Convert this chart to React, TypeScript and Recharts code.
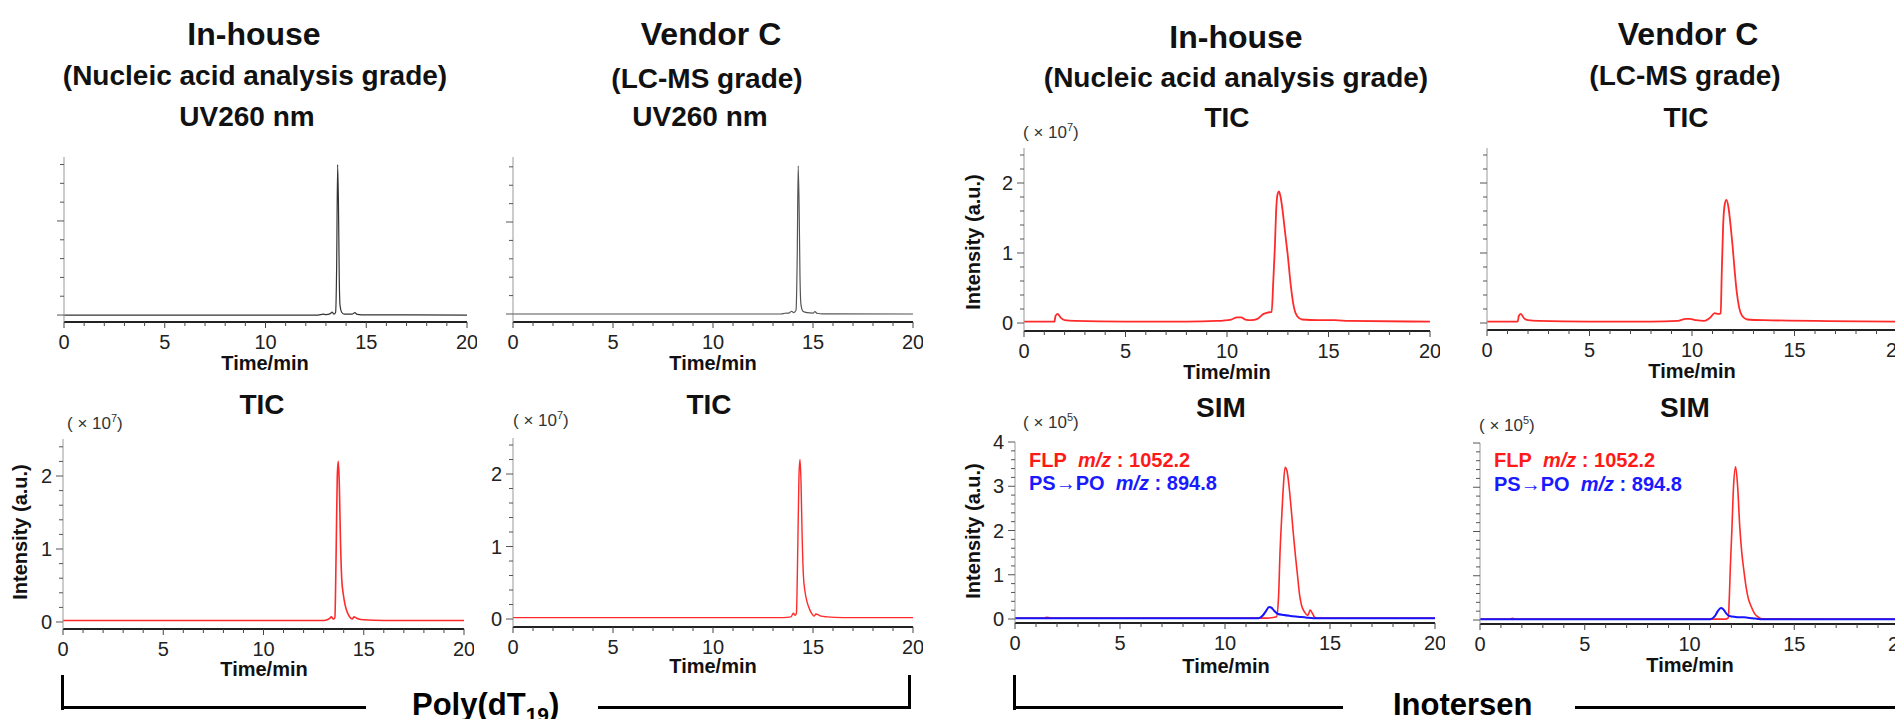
import { LineChart, Line, XAxis, YAxis } from "recharts";

const FONT = '"Liberation Sans", Arial, sans-serif';

type Pt = [number, number];

// time axis (min)
const timeTicks = [0, 1, 2, 3, 4, 5, 6, 7, 8, 9, 10, 11, 12, 13, 14, 15, 16, 17, 18, 19, 20];
const uvTicks = [0, 0.2, 0.4, 0.6, 0.8, 1, 1.2, 1.4, 1.6];
const ticTicks = [0, 0.2, 0.4, 0.6, 0.8, 1, 1.2, 1.4, 1.6, 1.8, 2, 2.2, 2.4];
const simTicks = [0, 0.2, 0.4, 0.6, 0.8, 1, 1.2, 1.4, 1.6, 1.8, 2, 2.2, 2.4, 2.6, 2.8, 3, 3.2, 3.4, 3.6, 3.8, 4];

// Poly(dT19) UV260 (arbitrary units)
const uvInhouse: Pt[] = [
  [0, 0], [12.6, 0], [12.87, 0.01], [13.0, 0.004], [13.22, 0.015], [13.3, 0.03], [13.4, 0.01],
  [13.48, 0.03], [13.53, 0.5], [13.58, 1.6], [13.62, 1.2], [13.66, 0.4], [13.7, 0.1], [13.78, 0.03],
  [13.9, 0.01], [14.3, 0.01], [14.43, 0.025], [14.55, 0.008], [15, 0.002], [20, 0],
];
const uvVendorC: Pt[] = [
  [0, 0], [13.4, 0], [13.6, 0.008], [13.8, 0.01], [13.93, 0.03], [14.03, 0.015], [14.15, 0.04],
  [14.21, 0.6], [14.26, 1.61], [14.31, 1.1], [14.35, 0.4], [14.4, 0.1], [14.5, 0.03], [14.7, 0.015],
  [15.0, 0.01], [15.1, 0.025], [15.2, 0.008], [15.5, 0.002], [20, 0],
];

// Poly(dT19) TIC (x10^7)
const ticPolyInhouse: Pt[] = [
  [0, 0.02], [12.9, 0.02], [13.1, 0.025], [13.3, 0.05], [13.38, 0.07], [13.48, 0.04], [13.56, 0.06],
  [13.62, 0.9], [13.68, 2.0], [13.73, 2.2], [13.78, 1.9], [13.84, 1.1], [13.9, 0.6], [13.98, 0.38],
  [14.08, 0.22], [14.2, 0.12], [14.32, 0.06], [14.42, 0.04], [14.52, 0.07], [14.6, 0.06], [14.75, 0.04],
  [15.0, 0.03], [16, 0.02], [20, 0.02],
];
const ticPolyVendorC: Pt[] = [
  [0, 0.02], [13.5, 0.02], [13.9, 0.03], [14.02, 0.08], [14.1, 0.05], [14.17, 0.08], [14.24, 1.0],
  [14.3, 2.0], [14.35, 2.2], [14.4, 1.9], [14.46, 1.1], [14.52, 0.6], [14.6, 0.38], [14.7, 0.24],
  [14.82, 0.14], [14.95, 0.07], [15.05, 0.04], [15.15, 0.07], [15.25, 0.06], [15.4, 0.04], [15.7, 0.03],
  [16.5, 0.02], [20, 0.02],
];

// Inotersen TIC (x10^7)
const ticInoInhouse: Pt[] = [
  [0, 0.02], [1.5, 0.02], [1.55, 0.1], [1.65, 0.13], [1.8, 0.08], [2.0, 0.04], [2.5, 0.03], [5, 0.02],
  [8, 0.02], [9.5, 0.03], [10.2, 0.05], [10.5, 0.08], [10.7, 0.08], [10.9, 0.05], [11.2, 0.04],
  [11.5, 0.06], [11.8, 0.13], [12.0, 0.15], [12.2, 0.16], [12.28, 0.6], [12.36, 1.1], [12.42, 1.6],
  [12.5, 1.85], [12.56, 1.88], [12.64, 1.8], [12.72, 1.65], [12.82, 1.4], [12.92, 1.15], [13.0, 0.95],
  [13.1, 0.65], [13.2, 0.4], [13.3, 0.22], [13.45, 0.1], [13.7, 0.05], [14.5, 0.04], [15.3, 0.04],
  [16, 0.03], [20, 0.02],
];
const ticInoVendorC: Pt[] = [
  [0, 0.02], [1.5, 0.02], [1.55, 0.1], [1.65, 0.13], [1.8, 0.07], [2.0, 0.04], [2.5, 0.03], [5, 0.02],
  [8, 0.02], [9.3, 0.03], [9.7, 0.06], [9.9, 0.06], [10.2, 0.04], [10.6, 0.03], [10.9, 0.08],
  [11.1, 0.14], [11.3, 0.13], [11.4, 0.14], [11.45, 0.7], [11.52, 1.4], [11.6, 1.7], [11.68, 1.76],
  [11.78, 1.65], [11.88, 1.4], [11.98, 1.1], [12.08, 0.75], [12.18, 0.45], [12.3, 0.22], [12.45, 0.1],
  [12.7, 0.05], [13.5, 0.04], [20, 0.02],
];

// Inotersen SIM (x10^5): FLP m/z 1052.2 and PS->PO m/z 894.8
const flpInhouse: Pt[] = [
  [0, 0.02], [1.4, 0.02], [1.5, 0.04], [1.65, 0.03], [1.8, 0.02], [12.0, 0.02], [12.45, 0.05],
  [12.55, 0.5], [12.62, 1.5], [12.7, 2.3], [12.78, 3.0], [12.86, 3.43], [12.95, 3.35], [13.05, 3.0],
  [13.15, 2.5], [13.25, 1.95], [13.35, 1.45], [13.45, 1.0], [13.55, 0.55], [13.65, 0.3], [13.8, 0.15],
  [13.95, 0.08], [14.05, 0.2], [14.15, 0.14], [14.25, 0.05], [14.35, 0.02], [20, 0.02],
];
const psPoInhouse: Pt[] = [
  [0, 0.02], [11.6, 0.02], [11.8, 0.08], [11.95, 0.18], [12.1, 0.27], [12.2, 0.26], [12.35, 0.18],
  [12.5, 0.12], [12.8, 0.09], [13.1, 0.07], [13.5, 0.05], [13.9, 0.03], [14.2, 0.02], [20, 0.02],
];
const flpVendorC: Pt[] = [
  [0, 0.02], [1.4, 0.02], [1.55, 0.04], [1.7, 0.02], [11.7, 0.02], [11.85, 0.05], [11.9, 0.5],
  [11.95, 1.2], [12.02, 2.0], [12.1, 3.0], [12.2, 3.46], [12.3, 3.0], [12.4, 2.1], [12.5, 1.5],
  [12.6, 1.1], [12.7, 0.75], [12.8, 0.5], [12.95, 0.3], [13.1, 0.15], [13.3, 0.06], [13.5, 0.03],
  [20, 0.02],
];
const psPoVendorC: Pt[] = [
  [0, 0.02], [11.0, 0.02], [11.2, 0.08], [11.35, 0.2], [11.5, 0.27], [11.6, 0.25], [11.75, 0.15],
  [11.9, 0.09], [12.2, 0.07], [12.6, 0.06], [13.0, 0.04], [13.4, 0.02], [20, 0.02],
];

const RED = "#ff2a2a";
const BLUE = "#1414ff";

function XTick(props: any) {
  const { x, y, payload } = props;
  const v = payload.value;
  const major = v % 5 === 0;
  return (
    <g>
      <line x1={x} x2={x} y1={y} y2={y + (major ? 6 : 4)} stroke="#444" strokeWidth={1} />
      {major && (
        <text x={x} y={y + 27} textAnchor="middle" fontSize={20} fill="#222" fontFamily={FONT}>
          {v}
        </text>
      )}
    </g>
  );
}

const makeYTick = (labels: boolean) => (props: any) => {
  const { x, y, payload } = props;
  const v = payload.value;
  const major = Math.abs(v - Math.round(v)) < 1e-6;
  return (
    <g>
      <line x1={x} x2={x - (major ? 7 : 4)} y1={y} y2={y} stroke="#555" strokeWidth={1} />
      {labels && major && (
        <text x={x - 11} y={y + 7} textAnchor="end" fontSize={20} fill="#222" fontFamily={FONT}>
          {Math.round(v)}
        </text>
      )}
    </g>
  );
};

interface Series {
  pts: Pt[];
  color: string;
  width: number;
}

interface PanelProps {
  left: number;
  top: number;
  w: number;
  h: number;
  yDomain: [number, number];
  yTicks: number[];
  yLabels: boolean;
  series: Series[];
}

function Panel({ left, top, w, h, yDomain, yTicks, yLabels, series }: PanelProps) {
  return (
    <div style={{ position: "absolute", left: left - 70, top: top - 10 }}>
      <LineChart width={w + 80} height={h + 60} margin={{ top: 10, right: 10, bottom: 0, left: 0 }}>
        <XAxis
          type="number"
          dataKey="t"
          domain={[0, 20]}
          ticks={timeTicks}
          interval={0}
          allowDataOverflow
          height={50}
          tickLine={false}
          tickSize={0}
          tickMargin={0}
          axisLine={{ stroke: "#222", strokeWidth: 2 }}
          tick={(p: any) => <XTick {...p} />}
        />
        <XAxis
          xAxisId="top"
          orientation="top"
          type="number"
          domain={[0, 20]}
          height={0}
          tick={false}
          tickLine={false}
          axisLine={{ stroke: "#999" }}
        />
        <YAxis
          type="number"
          domain={yDomain}
          ticks={yTicks}
          interval={0}
          allowDataOverflow
          width={70}
          tickLine={false}
          tickSize={0}
          tickMargin={0}
          axisLine={{ stroke: "#999" }}
          tick={makeYTick(yLabels)}
        />
        <YAxis
          yAxisId="right"
          orientation="right"
          type="number"
          domain={yDomain}
          allowDataOverflow
          width={0}
          tick={false}
          tickLine={false}
          axisLine={{ stroke: "#999" }}
        />
        {series.map((s, i) => (
          <Line
            key={i}
            data={s.pts.map(([t, v]) => ({ t, v }))}
            dataKey="v"
            type="monotone"
            stroke={s.color}
            strokeWidth={s.width}
            dot={false}
            activeDot={false}
            isAnimationActive={false}
          />
        ))}
      </LineChart>
    </div>
  );
}

function Txt({ x, y, size, children, bold = true, color = "#111", align = "center", rotate = false }: any) {
  const tx = align === "center" ? "-50%" : "0";
  return (
    <div
      style={{
        position: "absolute",
        left: x,
        top: y,
        transform: `translate(${tx}, -50%)${rotate ? " rotate(-90deg)" : ""}`,
        transformOrigin: rotate ? "50% 50%" : undefined,
        fontSize: size,
        fontWeight: bold ? 700 : 400,
        lineHeight: 1,
        whiteSpace: "nowrap",
        color,
        fontFamily: FONT,
      }}
    >
      {children}
    </div>
  );
}

const Scale = ({ exp }: { exp: number }) => (
  <span>
    ( × 10<span style={{ fontSize: 11, position: "relative", top: -7 }}>{exp}</span>)
  </span>
);

const Bar = ({ x, y, w, h }: { x: number; y: number; w: number; h: number }) => (
  <div style={{ position: "absolute", left: x, top: y, width: w, height: h, background: "#000" }} />
);

export default function App() {
  return (
    <div
      style={{
        position: "absolute",
        left: 0,
        top: 0,
        width: 1895,
        height: 719,
        overflow: "hidden",
        background: "#fff",
        fontFamily: FONT,
      }}
    >
      {/* titles */}
      <Txt x={254} y={34} size={32}>In-house</Txt>
      <Txt x={255} y={76} size={28}>(Nucleic acid analysis grade)</Txt>
      <Txt x={247} y={117} size={28}>UV260 nm</Txt>
      <Txt x={711} y={34} size={32}>Vendor C</Txt>
      <Txt x={707} y={79} size={28}>(LC-MS grade)</Txt>
      <Txt x={700} y={117} size={28}>UV260 nm</Txt>
      <Txt x={1236} y={37} size={32}>In-house</Txt>
      <Txt x={1236} y={78} size={28}>(Nucleic acid analysis grade)</Txt>
      <Txt x={1227} y={118} size={28}>TIC</Txt>
      <Txt x={1688} y={34} size={32}>Vendor C</Txt>
      <Txt x={1685} y={76} size={28}>(LC-MS grade)</Txt>
      <Txt x={1686} y={118} size={28}>TIC</Txt>
      <Txt x={262} y={405} size={28}>TIC</Txt>
      <Txt x={709} y={405} size={28}>TIC</Txt>
      <Txt x={1221} y={408} size={28}>SIM</Txt>
      <Txt x={1685} y={408} size={28}>SIM</Txt>

      {/* scale factors */}
      <Txt x={1023} y={132} size={17} bold={false} color="#333" align="left"><Scale exp={7} /></Txt>
      <Txt x={67} y={423} size={17} bold={false} color="#333" align="left"><Scale exp={7} /></Txt>
      <Txt x={513} y={420} size={17} bold={false} color="#333" align="left"><Scale exp={7} /></Txt>
      <Txt x={1023} y={422} size={17} bold={false} color="#333" align="left"><Scale exp={5} /></Txt>
      <Txt x={1479} y={425} size={17} bold={false} color="#333" align="left"><Scale exp={5} /></Txt>

      <Panel left={64} top={157} w={403} h={165} yDomain={[-0.074, 1.68]} yTicks={uvTicks} yLabels={false}
        series={[{ pts: uvInhouse, color: "#333", width: 1.2 }]} />
      <Panel left={513} top={157} w={400} h={165} yDomain={[-0.087, 1.707]} yTicks={uvTicks} yLabels={false}
        series={[{ pts: uvVendorC, color: "#555", width: 1.2 }]} />
      <Panel left={1024} top={148} w={406} h={183} yDomain={[-0.114, 2.5]} yTicks={ticTicks} yLabels
        series={[{ pts: ticInoInhouse, color: RED, width: 1.8 }]} />
      <Panel left={1487} top={148} w={410} h={182} yDomain={[-0.1, 2.5]} yTicks={ticTicks} yLabels={false}
        series={[{ pts: ticInoVendorC, color: RED, width: 1.8 }]} />
      <Panel left={63} top={439} w={401} h={190} yDomain={[-0.096, 2.507]} yTicks={ticTicks} yLabels
        series={[{ pts: ticPolyInhouse, color: RED, width: 1.6 }]} />
      <Panel left={513} top={438} w={400} h={189} yDomain={[-0.11, 2.497]} yTicks={ticTicks} yLabels
        series={[{ pts: ticPolyVendorC, color: RED, width: 1.4 }]} />
      <Panel left={1015} top={442} w={420} h={181} yDomain={[-0.09, 4]} yTicks={simTicks} yLabels
        series={[{ pts: flpInhouse, color: RED, width: 1.6 }, { pts: psPoInhouse, color: BLUE, width: 2 }]} />
      <Panel left={1480} top={443} w={419} h={181} yDomain={[-0.09, 4]} yTicks={simTicks} yLabels={false}
        series={[{ pts: flpVendorC, color: RED, width: 1.6 }, { pts: psPoVendorC, color: BLUE, width: 2 }]} />

      {/* axis titles */}
      <Txt x={265} y={363} size={20}>Time/min</Txt>
      <Txt x={713} y={363} size={20}>Time/min</Txt>
      <Txt x={1227} y={372} size={20}>Time/min</Txt>
      <Txt x={1692} y={371} size={20}>Time/min</Txt>
      <Txt x={264} y={669} size={20}>Time/min</Txt>
      <Txt x={713} y={666} size={20}>Time/min</Txt>
      <Txt x={1226} y={666} size={20}>Time/min</Txt>
      <Txt x={1690} y={665} size={20}>Time/min</Txt>
      <Txt x={973} y={242} size={20} rotate>Intensity (a.u.)</Txt>
      <Txt x={20} y={532} size={20} rotate>Intensity (a.u.)</Txt>
      <Txt x={973} y={531} size={20} rotate>Intensity (a.u.)</Txt>

      {/* SIM legends */}
      <Txt x={1029} y={460} size={20} color="#ff1a1a" align="left">FLP&nbsp;&nbsp;<i>m/z</i> : 1052.2</Txt>
      <Txt x={1029} y={483} size={20} color="#1a1aff" align="left">PS→PO&nbsp;&nbsp;<i>m/z</i> : 894.8</Txt>
      <Txt x={1494} y={460} size={20} color="#ff1a1a" align="left">FLP&nbsp;&nbsp;<i>m/z</i> : 1052.2</Txt>
      <Txt x={1494} y={484} size={20} color="#1a1aff" align="left">PS→PO&nbsp;&nbsp;<i>m/z</i> : 894.8</Txt>

      {/* group brackets */}
      <Bar x={61} y={675} w={3} h={35} />
      <Bar x={61} y={706} w={305} h={3} />
      <Bar x={598} y={706} w={313} h={3} />
      <Bar x={908} y={675} w={3} h={34} />
      <Bar x={1013} y={675} w={3} h={35} />
      <Bar x={1013} y={706} w={330} h={3} />
      <Bar x={1575} y={706} w={330} h={3} />
      <div style={{ position: "absolute", left: 412, top: 689, fontSize: 31, fontWeight: 700, lineHeight: 1, whiteSpace: "nowrap" }}>
        Poly(dT<sub style={{ fontSize: 21 }}>19</sub>)
      </div>
      <div style={{ position: "absolute", left: 1393, top: 689, fontSize: 31, fontWeight: 700, lineHeight: 1, whiteSpace: "nowrap" }}>
        Inotersen
      </div>
    </div>
  );
}
